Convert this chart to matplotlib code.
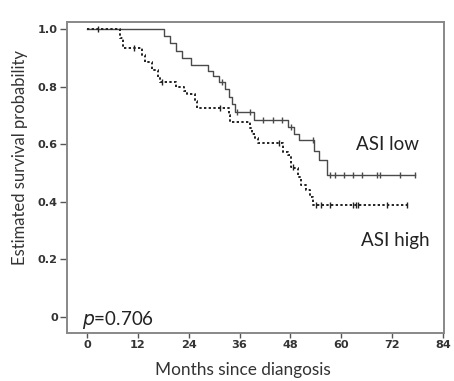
import numpy as np
import matplotlib.pyplot as plt

# Kaplan-Meier step data (months, survival)
low_times = [0, 18.1, 19.5, 21.0, 22.5, 24.5, 28.6, 29.8, 31.2, 32.6, 33.5, 34.1, 35.0,
             39.5, 47.3, 48.9, 50.1, 53.6, 54.8, 56.5, 77.4]
low_surv = [1.0, 0.975, 0.950, 0.925, 0.900, 0.875, 0.855, 0.835, 0.815, 0.790, 0.765, 0.740, 0.711,
            0.683, 0.659, 0.635, 0.614, 0.576, 0.545, 0.493, 0.493]
low_censor = [31.8, 35.5, 38.4, 41.4, 43.8, 45.9, 48.2, 53.2, 57.2, 58.6, 60.7, 62.8, 64.9,
              68.5, 69.2, 73.9, 77.4]

high_times = [0, 7.8, 8.6, 12.9, 13.6, 15.4, 16.8, 17.2, 20.9, 22.8, 23.6, 25.5, 25.9,
              33.4, 33.8, 38.4, 39.0, 39.7, 40.3, 46.2, 47.4, 48.2, 48.9, 49.7, 50.5,
              51.7, 52.5, 53.2, 75.5]
high_surv = [1.0, 0.967, 0.935, 0.910, 0.886, 0.857, 0.834, 0.817, 0.797, 0.785, 0.773, 0.750, 0.724,
             0.700, 0.675, 0.655, 0.635, 0.620, 0.602, 0.573, 0.562, 0.521, 0.515, 0.486, 0.457,
             0.440, 0.417, 0.388, 0.388]
high_censor = [2.6, 11.0, 17.6, 31.3, 45.4, 48.7, 54.0, 55.2, 57.2, 62.7, 63.5, 63.8, 70.7, 75.5]

x_ticks = [0, 12, 24, 36, 48, 60, 72, 84]
y_ticks = [0, 0.2, 0.4, 0.6, 0.8, 1.0]
y_tick_labels = ["0", "0.2", "0.4", "0.6", "0.8", "1.0"]


def surv_at(times, surv, t):
    idx = np.searchsorted(times, t, side="right") - 1
    return np.asarray(surv)[idx]


fig = plt.figure(figsize=(4.54, 3.81), dpi=100)
ax = fig.add_axes([0.1476, 0.126, 0.978 - 0.1476, 0.816])

ax.step(low_times, low_surv, where="post", color="#4a4a4a", lw=1.0, zorder=2)
ax.plot(low_censor, surv_at(low_times, low_surv, low_censor), ls="none", marker="|",
        ms=5, mew=1.0, color="#4a4a4a", zorder=3)

ax.step(high_times, high_surv, where="post", color="#222222", lw=1.4, ls=(0, (1.2, 1.2)), zorder=4)
ax.plot(high_censor, surv_at(high_times, high_surv, high_censor), ls="none", marker="|",
        ms=5, mew=1.0, color="#222222", zorder=5)

ax.set_xlim(-4.7, 84.2)
ax.set_ylim(-0.057, 1.024)
ax.set_xticks(x_ticks)
ax.set_yticks(y_ticks)
ax.set_yticklabels(y_tick_labels)
for lbl in ax.get_xticklabels() + ax.get_yticklabels():
    lbl.set_fontfamily("DejaVu Sans")
    lbl.set_fontweight("bold")
    lbl.set_fontsize(8.1)
    lbl.set_color("#333333")
ax.tick_params(axis="y", direction="out", length=5, width=1, color="#555555", pad=1.5)
ax.tick_params(axis="x", direction="out", length=3.5, width=1, color="#555555", pad=1.5)

for sp in ax.spines.values():
    sp.set_color("#888888")
    sp.set_linewidth(1.4)

ax.set_xlabel("Months since diangosis", fontfamily="Lato", fontsize=12.4, color="#333333")
ax.set_ylabel("Estimated survival probability", fontfamily="Lato", fontsize=12, color="#333333")
ax.xaxis.set_label_coords(0.467, -0.093)
ax.yaxis.set_label_coords(-0.103, 0.563)

ax.text(63.5, 0.579, "ASI low", fontfamily="Lato", fontsize=13.5, color="#222222", va="baseline")
ax.text(64.7, 0.245, "ASI high", fontfamily="Lato", fontsize=13.5, color="#222222", va="baseline")
ax.text(-1.2, -0.030, "$p$=0.706", fontfamily="Lato", fontsize=13.5, color="#222222", va="baseline")

fig.savefig("out.png", dpi=100)
